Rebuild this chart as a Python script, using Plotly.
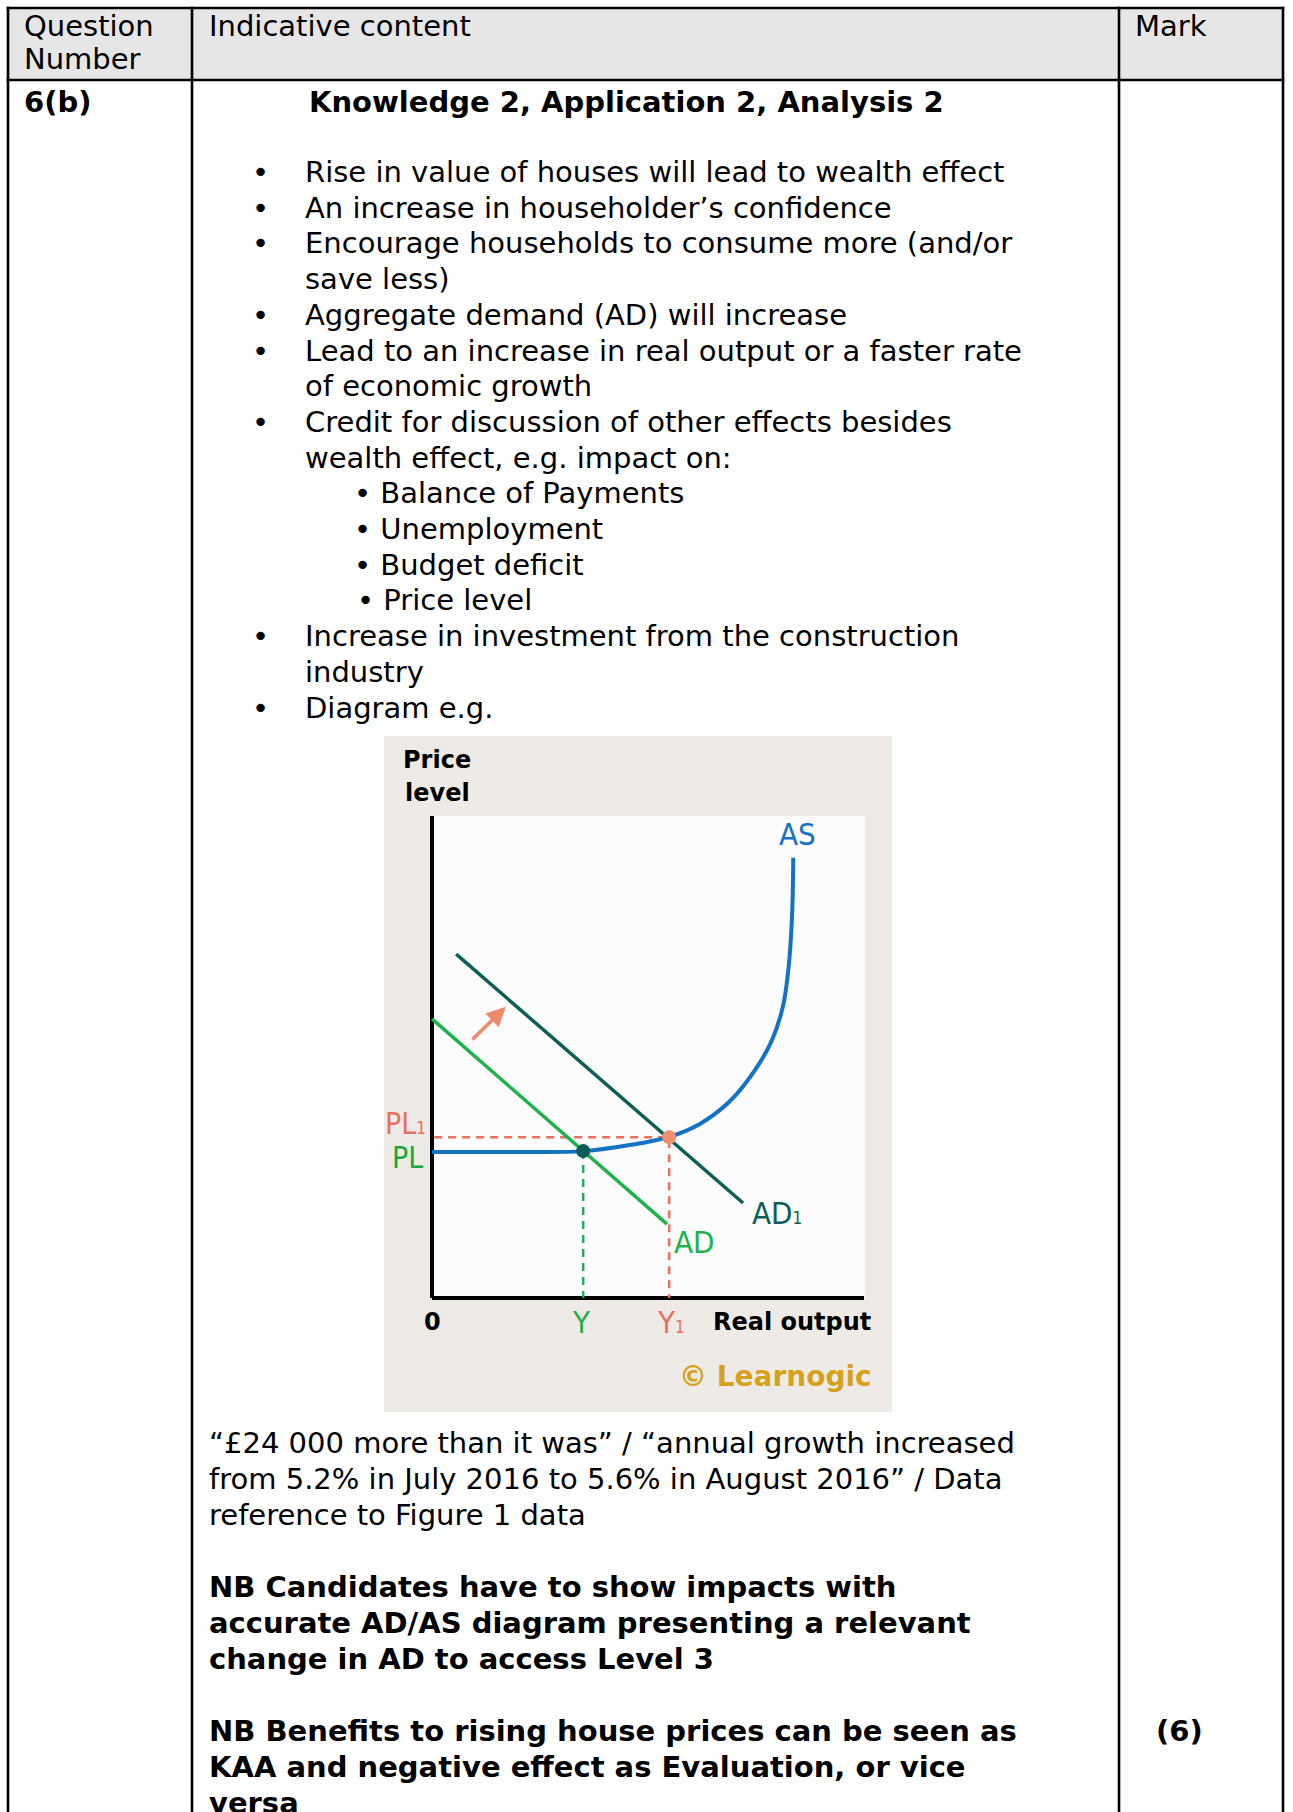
import plotly.graph_objects as go

W, H = 1293, 1812

# ---------------- text content ----------------
header_q = ["Question", "Number"]
header_content = "Indicative content"
header_mark = "Mark"
question_no = "6(b)"
title_line = "Knowledge 2, Application 2, Analysis 2"
mark_value = "(6)"

bullet_kinds = ["b", "b", "b", "c", "b", "b", "c", "b", "c", "s", "s", "s", "s2", "b", "c", "b"]
bullet_texts = [
    "Rise in value of houses will lead to wealth effect",
    "An increase in householder\u2019s confidence",
    "Encourage households to consume more (and/or",
    "save less)",
    "Aggregate demand (AD) will increase",
    "Lead to an increase in real output or a faster rate",
    "of economic growth",
    "Credit for discussion of other effects besides",
    "wealth effect, e.g. impact on:",
    "Balance of Payments",
    "Unemployment",
    "Budget deficit",
    "Price level",
    "Increase in investment from the construction",
    "industry",
    "Diagram e.g.",
]

para_texts = [
    "\u201c\u00a324 000 more than it was\u201d / \u201cannual growth increased",
    "from 5.2% in July 2016 to 5.6% in August 2016\u201d / Data",
    "reference to Figure 1 data",
    "",
    "NB Candidates have to show impacts with",
    "accurate AD/AS diagram presenting a relevant",
    "change in AD to access Level 3",
    "",
    "NB Benefits to rising house prices can be seen as",
    "KAA and negative effect as Evaluation, or vice",
    "versa",
]
para_bold = [False, False, False, False, True, True, True, False, True, True, True]

# ---------------- diagram data (units: real output / price level) ----------------
as_x = [0.0, 2.04, 3.50, 4.58, 5.49, 6.20, 6.90, 7.48, 7.87, 8.13, 8.26, 8.33, 8.36, 8.36]
as_y = [3.38, 3.38, 3.40, 3.54, 3.73, 4.03, 4.56, 5.28, 5.97, 6.78, 7.71, 8.75, 9.91, 10.19]
ad_x = [0.0, 5.44]
ad_y = [6.46, 1.71]
ad1_x = [0.56, 7.20]
ad1_y = [7.96, 2.20]
eq_output = [3.50, 5.49]      # Y, Y1
eq_price = [3.40, 3.72]       # PL, PL1
shift_arrow_x = [0.90, 1.71]
shift_arrow_y = [5.95, 6.74]
axis_x_max = 10.0
axis_y_max = 11.16

# ---------------- colours ----------------
BLUE = "#1372c4"
TEAL = "#0e5e58"
GREEN = "#1fb24a"
GREEN_LBL = "#17a83e"
SALMON = "#e8705e"
SALMON_DOT = "#f0906f"
GOLD = "#d6a21e"

FONT = "DejaVu Sans"
NARROW = "Liberation Sans Narrow, DejaVu Sans Condensed, Open Sans, sans-serif"

fig = go.Figure()

# ---------------- diagram traces ----------------
fig.add_trace(go.Scatter(x=[0, 0], y=[0, axis_y_max], mode="lines",
                         line=dict(color="black", width=4), xaxis="x2", yaxis="y2",
                         hoverinfo="skip"))
fig.add_trace(go.Scatter(x=[0, axis_x_max], y=[0, 0], mode="lines",
                         line=dict(color="black", width=4), xaxis="x2", yaxis="y2",
                         hoverinfo="skip"))
# dashed guides
fig.add_trace(go.Scatter(x=[0.05, eq_output[1], eq_output[1]], y=[eq_price[1], eq_price[1], 0],
                         mode="lines", line=dict(color=SALMON, width=2.5, dash="8px,6px"),
                         xaxis="x2", yaxis="y2", hoverinfo="skip"))
fig.add_trace(go.Scatter(x=[eq_output[0], eq_output[0]], y=[eq_price[0], 0],
                         mode="lines", line=dict(color="#2fa660", width=2.5, dash="8px,6px"),
                         xaxis="x2", yaxis="y2", hoverinfo="skip"))
# AD curves
fig.add_trace(go.Scatter(x=ad_x, y=ad_y, mode="lines", line=dict(color=GREEN, width=3.5),
                         xaxis="x2", yaxis="y2", hoverinfo="skip"))
fig.add_trace(go.Scatter(x=ad1_x, y=ad1_y, mode="lines", line=dict(color=TEAL, width=3.5),
                         xaxis="x2", yaxis="y2", hoverinfo="skip"))
# AS curve
fig.add_trace(go.Scatter(x=as_x, y=as_y, mode="lines",
                         line=dict(color=BLUE, width=4, shape="spline", smoothing=1.0),
                         xaxis="x2", yaxis="y2", hoverinfo="skip"))
# equilibrium points
fig.add_trace(go.Scatter(x=eq_output, y=eq_price, mode="markers",
                         marker=dict(size=14, color=["#0b5d56", SALMON_DOT]),
                         xaxis="x2", yaxis="y2", hoverinfo="skip"))

# ---------------- table shapes ----------------
col_x = [8, 192, 1119, 1283]
top_y, head_y = 8, 80
shapes = []
shapes.append(dict(type="rect", xref="x", yref="y", x0=col_x[0], x1=col_x[3], y0=top_y, y1=head_y,
                   fillcolor="#e6e6e6", line=dict(width=0), layer="below"))
for cx in col_x:
    shapes.append(dict(type="line", xref="x", yref="y", x0=cx, x1=cx, y0=top_y - 1.3, y1=H + 5,
                       line=dict(color="black", width=2.6)))
for ry in [top_y, head_y]:
    shapes.append(dict(type="line", xref="x", yref="y", x0=col_x[0] - 1.3, x1=col_x[3] + 1.3,
                       y0=ry, y1=ry, line=dict(color="black", width=2.6)))
# diagram background panel + white plotting area
shapes.append(dict(type="rect", xref="x2 domain", yref="y2 domain", x0=0, x1=1, y0=0, y1=1,
                   fillcolor="#eeebe6", line=dict(width=0), layer="below"))
shapes.append(dict(type="rect", xref="x2", yref="y2", x0=0, x1=axis_x_max + 0.02, y0=0, y1=axis_y_max,
                   fillcolor="#fcfcfc", line=dict(width=0), layer="below"))

ann = []


def txt(x, y, s, size=29, bold=False, color="black", xanchor="left", family=FONT, xref="x", yref="y"):
    ann.append(dict(x=x, y=y, xref=xref, yref=yref, text=(f"<b>{s}</b>" if bold else s),
                    showarrow=False, xanchor=xanchor, yanchor="middle",
                    font=dict(family=family, size=size, color=color)))


# header
txt(22, 26, header_q[0])
txt(22, 59, header_q[1])
txt(207, 26, header_content)
txt(1133, 26, header_mark)
# body
txt(22, 102, question_no, bold=True)
txt(307, 102, title_line, bold=True)

y0, step = 172, 35.7
for i, (k, s) in enumerate(zip(bullet_kinds, bullet_texts)):
    y = y0 + i * step
    if k == "b":
        txt(260, y, "\u2022", xanchor="center")
        txt(303, y, s)
    elif k == "c":
        txt(303, y, s)
    elif k == "s":
        txt(352, y, "\u2022 " + s)
    else:
        txt(355, y, "\u2022 " + s)

py0, pstep = 1443, 36
for i, (s, b) in enumerate(zip(para_texts, para_bold)):
    if s:
        txt(207, py0 + i * pstep, s, bold=b)
txt(1154, py0 + 8 * pstep, mark_value, bold=True)

# ---------------- diagram labels ----------------
D = dict(xref="x2", yref="y2")
txt(0.12, 12.45, "Price", size=24, bold=True, xanchor="center", **D)
txt(0.12, 11.68, "level", size=24, bold=True, xanchor="center", **D)
txt(7.99, 10.75, "AS", size=31, color=BLUE, family=NARROW, **D)
txt(-0.09, 4.03, "PL<span style='font-size:17px'>1</span>", size=30, color=SALMON, family=NARROW,
    xanchor="right", **D)
txt(-0.16, 3.25, "PL", size=30, color=GREEN_LBL, family=NARROW, xanchor="right", **D)
txt(7.36, 1.97, "AD<span style='font-size:17px'>1</span>", size=31, color=TEAL, family=NARROW, **D)
txt(5.56, 1.30, "AD", size=31, color=GREEN, family=NARROW, **D)
txt(0.02, -0.56, "0", size=24, bold=True, xanchor="center", **D)
txt(eq_output[0] - 0.03, -0.56, "Y", size=31, color=GREEN, family=NARROW, xanchor="center", **D)
txt(eq_output[1] + 0.04, -0.56, "Y<span style='font-size:17px'>1</span>", size=31, color=SALMON,
    family=NARROW, xanchor="center", **D)
txt(6.46, -0.56, "Real output", size=24, bold=True, **D)
txt(5.68, -1.81, "\u00a9 Learnogic", size=28, bold=True, color=GOLD, **D)

# shift arrow
ann.append(dict(x=shift_arrow_x[1], y=shift_arrow_y[1], ax=shift_arrow_x[0], ay=shift_arrow_y[0],
                xref="x2", yref="y2", axref="x2", ayref="y2", text="", showarrow=True,
                arrowhead=2, arrowsize=1.1, arrowwidth=3.5, arrowcolor="#ee8a6b", standoff=0))

fig.update_layout(
    width=W, height=H, margin=dict(l=0, r=0, t=0, b=0),
    paper_bgcolor="white", plot_bgcolor="rgba(0,0,0,0)",
    showlegend=False,
    xaxis=dict(range=[0, W], domain=[0, 1], visible=False, fixedrange=True),
    yaxis=dict(range=[H, 0], domain=[0, 1], visible=False, fixedrange=True),
    xaxis2=dict(range=[(384 - 432) / 43.2, (892 - 432) / 43.2], domain=[384 / W, 892 / W],
                anchor="y2", visible=False, fixedrange=True),
    yaxis2=dict(range=[(1298 - 1412) / 43.2, (1298 - 736) / 43.2],
                domain=[1 - 1412 / H, 1 - 736 / H], anchor="x2", visible=False, fixedrange=True),
    shapes=shapes, annotations=ann,
)

fig.write_html("out.html", config={"displayModeBar": False, "staticPlot": True},
               post_script="document.body.style.margin='0px';")
